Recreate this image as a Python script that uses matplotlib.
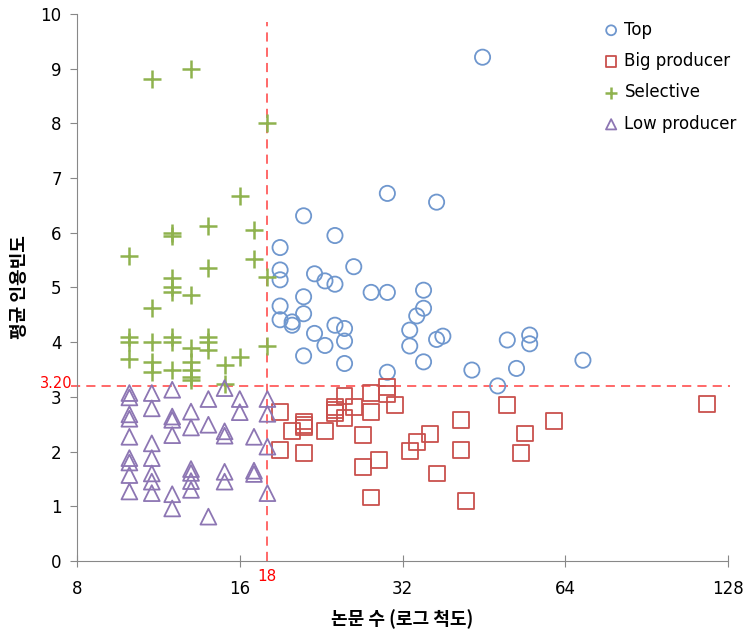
import matplotlib
matplotlib.use("Agg")
import matplotlib.pyplot as plt
from matplotlib.ticker import FixedLocator, FixedFormatter, NullLocator

# Top
top_x = [19, 19, 19, 21, 24, 30, 37, 26, 22, 23, 24, 19, 21, 28, 30, 35, 35, 34,
         19, 20, 20, 21, 24, 25, 22, 25, 23, 33, 37, 38, 33, 21, 25, 35, 30, 43,
         45, 50, 55, 55, 52, 48, 69]
top_y = [5.73, 5.32, 5.14, 6.31, 5.95, 6.72, 6.56, 5.38, 5.25, 5.12, 5.06, 4.66, 4.83,
         4.91, 4.91, 4.95, 4.62, 4.48, 4.41, 4.37, 4.31, 4.52, 4.31, 4.25, 4.16, 4.02,
         3.94, 4.22, 4.05, 4.11, 3.93, 3.75, 3.61, 3.64, 3.45, 3.49, 9.21, 4.04, 4.13,
         3.97, 3.52, 3.20, 3.67]

# Big producer
big_x = [19, 19, 20, 21, 21, 21, 21, 23, 24, 24, 24, 25, 25, 26, 27, 27, 28, 28, 28,
         29, 30, 30, 31, 33, 34, 36, 37, 41, 41, 42, 50, 61, 54, 53, 117]
big_y = [2.72, 2.03, 2.38, 2.55, 2.49, 2.44, 1.98, 2.37, 2.82, 2.76, 2.70, 3.02, 2.62,
         2.82, 2.30, 1.72, 3.07, 2.73, 1.16, 1.85, 3.18, 3.05, 2.85, 2.01, 2.18, 2.32,
         1.60, 2.58, 2.03, 1.10, 2.85, 2.56, 2.33, 1.98, 2.87]

# Selective
sel_x = [11, 13, 18, 16, 12, 12, 14, 17, 10, 17, 14, 18, 12, 12, 12, 13, 11, 10, 10,
         11, 12, 12, 13, 14, 14, 14, 18, 10, 11, 11, 12, 13, 13, 13, 13, 15, 16, 15]
sel_y = [8.81, 9.0, 8.0, 6.68, 6.0, 5.95, 6.13, 6.05, 5.58, 5.52, 5.35, 5.19, 5.17, 5.0,
         4.91, 4.86, 4.62, 4.09, 4.0, 4.0, 4.09, 4.01, 3.90, 4.09, 4.0, 3.85, 3.93, 3.69,
         3.64, 3.46, 3.49, 3.64, 3.50, 3.37, 3.30, 3.58, 3.73, 3.24]

# Low producer
low_x = [10, 10, 10, 10, 10, 10, 10, 10, 10,
         11, 11, 11, 11, 11, 11, 11,
         12, 12, 12, 12, 12, 12,
         13, 13, 13, 13, 13, 13,
         14, 14, 14,
         15, 15, 15, 15, 15,
         16, 16,
         17, 17, 17,
         18, 18, 18, 18]
low_y = [3.07, 2.99, 2.68, 2.60, 2.27, 1.88, 1.80, 1.57, 1.27,
         3.07, 2.79, 2.15, 1.88, 1.60, 1.45, 1.24,
         3.13, 2.64, 2.58, 2.30, 1.22, 0.96,
         2.73, 2.44, 1.68, 1.61, 1.46, 1.30,
         2.96, 2.49, 0.81,
         3.16, 2.37, 2.29, 1.63, 1.45,
         2.96, 2.72,
         2.27, 1.65, 1.59,
         2.96, 2.69, 2.09, 1.24]

x_ticks = [8, 16, 32, 64, 128]
y_ticks = [0, 1, 2, 3, 4, 5, 6, 7, 8, 9, 10]
x_cut = 18
y_cut = 3.20

fig = plt.figure(figsize=(7.44, 6.36), dpi=100)
ax = fig.add_axes([0.1035, 0.118, 0.875, 0.86])

ax.scatter(top_x, top_y, s=120, facecolors='none', edgecolors='#6F97CE', linewidths=1.3,
           marker='o', label='Top', zorder=3)
ax.scatter(big_x, big_y, s=130, facecolors='none', edgecolors='#C9504D', linewidths=1.3,
           marker='s', label='Big producer', zorder=3)
ax.scatter(sel_x, sel_y, s=150, c='#8FB24E', linewidths=1.8,
           marker='+', label='Selective', zorder=3)
ax.scatter(low_x, low_y, s=130, facecolors='none', edgecolors='#8D76B3', linewidths=1.3,
           marker='^', label='Low producer', zorder=3)

ax.plot([x_cut, x_cut], [0, 9.85], color='#FF4040', lw=1.1, ls=(0, (6, 4)), zorder=2)
ax.plot([7.8, 129], [y_cut, y_cut], color='#FF4040', lw=1.1, ls=(0, (6, 4)),
        zorder=2, clip_on=False)

ax.set_xscale('log', base=2)
ax.set_xlim(8, 128)
ax.set_ylim(0, 10)
ax.xaxis.set_major_locator(FixedLocator(x_ticks))
ax.xaxis.set_major_formatter(FixedFormatter([str(v) for v in x_ticks]))
ax.xaxis.set_minor_locator(NullLocator())
ax.set_yticks(y_ticks)

for s in ['top', 'right']:
    ax.spines[s].set_visible(False)
for s in ['left', 'bottom']:
    ax.spines[s].set_color('#888888')
ax.tick_params(axis='both', colors='#888888', labelcolor='black', length=5,
               labelsize=12)
ax.tick_params(axis='x', pad=10, direction='inout', length=8)
ax.tick_params(axis='y', pad=6)

ax.text(x_cut, -0.15, '18', color='red', fontsize=11, ha='center', va='top')
ax.text(7.85, y_cut + 0.04, '3.20', color='red', fontsize=10.5, ha='right', va='center')

ax.set_xlabel('논문 수 (로그 척도)', family=['Noto Sans CJK KR', 'DejaVu Sans'],
              fontsize=13, fontweight='bold', labelpad=8)
ax.set_ylabel('평균 인용빈도', family=['Noto Sans CJK KR', 'DejaVu Sans'],
              fontsize=13, fontweight='bold', labelpad=8)

leg = ax.legend(loc='upper left', bbox_to_anchor=(0.8, 1.0), frameon=False,
                fontsize=12, handlelength=0.8, handletextpad=0.4, labelspacing=0.8,
                markerscale=0.65, borderaxespad=0.0)

fig.savefig('out.png', dpi=100)
